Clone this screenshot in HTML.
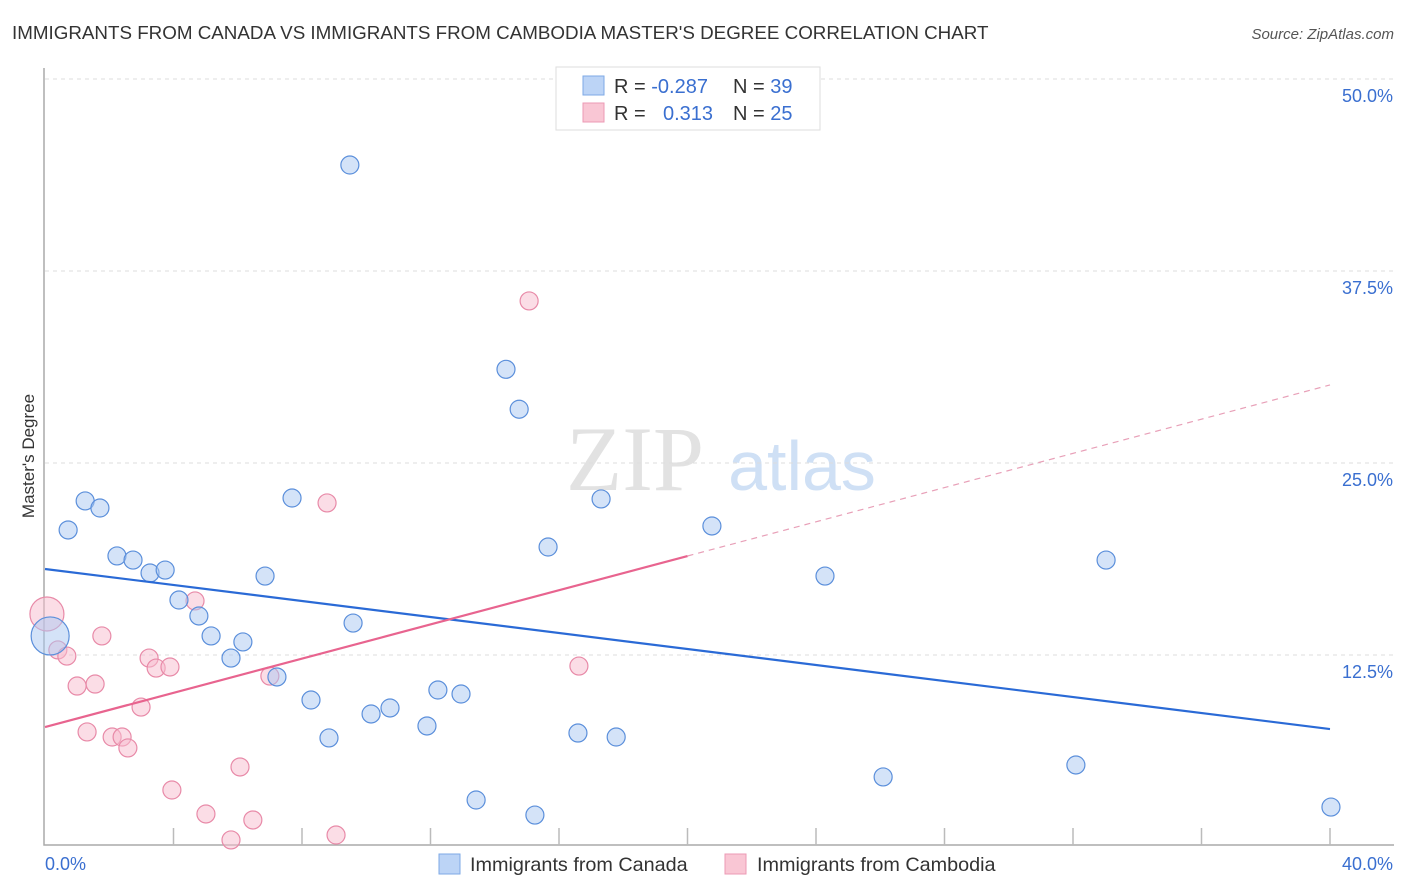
<!DOCTYPE html>
<html><head><meta charset="utf-8"><style>
body{margin:0;background:#fff;font-family:"Liberation Sans",sans-serif}
svg{display:block}
</style></head><body>
<svg id="c" width="1406" height="892">
<text x="12" y="39" font-size="18.8" fill="#333">IMMIGRANTS FROM CANADA VS IMMIGRANTS FROM CAMBODIA MASTER'S DEGREE CORRELATION CHART</text>
<text x="1394" y="39" font-size="15" fill="#555" font-style="italic" text-anchor="end">Source: ZipAtlas.com</text>
<g><text x="635" y="490" font-size="92" fill="#e2e2e2" font-family="Liberation Serif,serif" text-anchor="middle">ZIP</text><text x="802" y="490" font-size="70" fill="#cfe0f5" text-anchor="middle">atlas</text></g>
<g id="grid"></g><g id="axes"></g><g id="marks"></g>
<text transform="translate(34,456) rotate(-90)" font-size="17" fill="#333" text-anchor="middle">Master's Degree</text>
<g>
<rect x="556" y="67" width="264" height="63" fill="#fff" stroke="#ddd"/>
<rect x="583" y="76" width="21" height="19" fill="#bcd4f6" stroke="#7ea9e6"/>
<rect x="583" y="103" width="21" height="19" fill="#f9c6d4" stroke="#ec9ab4"/>
<text x="614" y="93" font-size="20" fill="#333">R = <tspan fill="#3a6fd0">-0.287</tspan><tspan x="733">N = </tspan><tspan fill="#3a6fd0">39</tspan></text>
<text x="614" y="120" font-size="20" fill="#333">R = <tspan x="663" fill="#3a6fd0">0.313</tspan><tspan x="733">N = </tspan><tspan fill="#3a6fd0">25</tspan></text>
</g>
<g>
<rect x="439" y="854" width="21" height="20" fill="#bcd4f6" stroke="#7ea9e6"/>
<text x="470" y="871" font-size="19.8" fill="#333">Immigrants from Canada</text>
<rect x="725" y="854" width="21" height="20" fill="#f9c6d4" stroke="#ec9ab4"/>
<text x="757" y="871" font-size="19.8" fill="#333">Immigrants from Cambodia</text>
</g>
</svg>
<script>
const yTicks=[12.5,25,37.5,50];
const yTickLabels=["12.5%","25.0%","37.5%","50.0%"];
const xTicks=[0,4,8,12,16,20,24,28,32,36,40];
const canadaX=[9.49,14.35,14.76,0.72,1.25,1.71,7.69,17.31,15.66,20.76,2.24,2.74,3.27,3.74,6.85,24.28,33.03,4.17,4.79,5.17,6.16,5.79,9.59,7.22,8.28,8.84,10.15,10.74,12.23,12.95,11.89,16.59,17.78,13.42,15.25,26.09,32.09,40.03,0.16];
const canadaY=[44.4,31.1,28.5,20.64,22.53,22.07,22.72,22.66,19.53,20.9,18.95,18.68,17.84,18.03,17.64,17.64,18.68,16.08,15.04,13.74,13.35,12.3,14.58,11.07,9.57,7.1,8.66,9.05,10.22,9.96,7.88,7.42,7.16,3.06,2.08,4.56,5.34,2.6,13.74];
const cambodiaX=[0.06,15.07,8.78,4.67,1.77,0.4,0.68,3.24,3.46,3.89,1.0,1.56,7.0,16.62,2.99,1.31,2.09,2.4,2.58,6.07,3.95,5.01,6.47,5.79,9.06];
const cambodiaY=[15.17,35.55,22.4,16.02,13.74,12.83,12.43,12.3,11.65,11.72,10.48,10.61,11.13,11.78,9.11,7.49,7.16,7.16,6.45,5.21,3.71,2.15,1.76,0.46,0.78];
const canadaTrend=[18.1,7.68];
const cambodiaTrend=[7.81,30.08];
const cambodiaSolidEnd=20;
const X=v=>45+v/40*1285, Y=v=>847-v*15.36;
const NS="http://www.w3.org/2000/svg";
function mk(p,t,a){const e=document.createElementNS(NS,t);for(const k in a)e.setAttribute(k,a[k]);p.appendChild(e);return e;}
const grid=document.getElementById('grid'),axes=document.getElementById('axes'),marks=document.getElementById('marks');
yTicks.forEach((t,i)=>{
 const l=mk(grid,'line',{x1:45,x2:1394,y1:Y(t),y2:Y(t),stroke:'#ddd','stroke-dasharray':'4,4'});
 
 
 const tx=mk(grid,'text',{x:1393,y:Y(t)+23,'font-size':18,fill:'#3a6fd0','text-anchor':'end'});
 tx.textContent=yTickLabels[i];
 
 
});
const ax=mk(axes,'path',{d:'M44,68V845H1394',fill:'none',stroke:'#aaa','stroke-width':1.5});


xTicks.forEach(t=>{if(t===0)return;const l=mk(axes,'line',{x1:X(t),x2:X(t),y1:828,y2:845,stroke:'#bbb','stroke-width':1.5});
 
 });
const xl0=mk(axes,'text',{x:45,y:870,'font-size':18,fill:'#3a6fd0'});xl0.textContent='0.0%';


const xl1=mk(axes,'text',{x:1393,y:870,'font-size':18,fill:'#3a6fd0','text-anchor':'end'});xl1.textContent='40.0%';


function dots(xs,ys,fill,stroke,name,bigIdx,bigR){xs.forEach((x,i)=>{const c=mk(marks,'circle',{cx:X(x),cy:Y(ys[i]),r:i===bigIdx?bigR:9,fill:fill,'fill-opacity':0.5,stroke:stroke,'stroke-width':1.2});
 
 });}
dots(cambodiaX,cambodiaY,'#f7bccd','#e88aa8','point-cambodia',0,17);
dots(canadaX,canadaY,'#a9c8f2','#5b8fdb','point-canada',38,19);
const tb=mk(marks,'line',{x1:X(0),y1:Y(canadaTrend[0]),x2:X(40),y2:Y(canadaTrend[1]),stroke:'#2a6ad6','stroke-width':2.2});


const py=v=>cambodiaTrend[0]+(cambodiaTrend[1]-cambodiaTrend[0])*v/40;
const tp=mk(marks,'line',{x1:X(0),y1:Y(py(0)),x2:X(cambodiaSolidEnd),y2:Y(py(cambodiaSolidEnd)),stroke:'#e8648f','stroke-width':2.2});


const td=mk(marks,'line',{x1:X(cambodiaSolidEnd),y1:Y(py(cambodiaSolidEnd)),x2:X(40),y2:Y(py(40)),stroke:'#e8a0b8','stroke-width':1.2,'stroke-dasharray':'6,5'});


</script>
</body></html>
